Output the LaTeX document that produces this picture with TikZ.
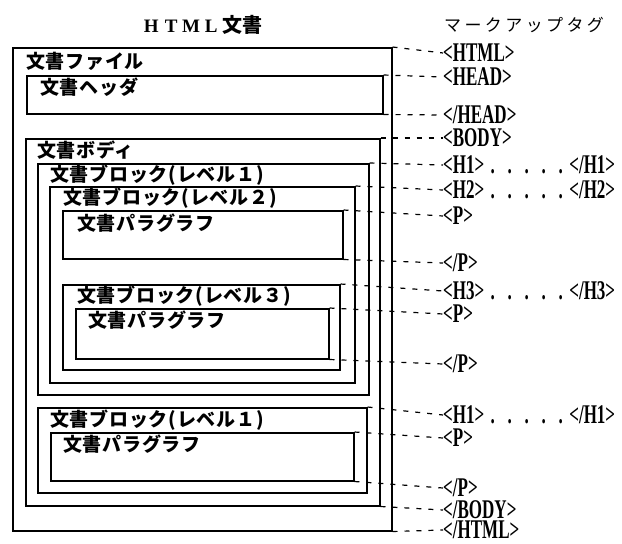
\documentclass[tikz,border=0pt]{standalone}
\usepackage{fontspec}
\newfontfamily\jp{Noto Sans CJK JP}
\newfontfamily\jpsp[LetterSpace=20]{Noto Sans CJK JP}
\newfontfamily\jpl[LetterSpace=4]{Noto Sans CJK JP}
\newfontfamily\tagf[FakeStretch=0.63]{Liberation Serif}
\newfontfamily\ser{Liberation Serif}
\newcommand\tdots{\makebox[17pt]{.}\makebox[17pt]{.}\makebox[17pt]{.}\makebox[17pt]{.}\makebox[17pt]{.}}
\newcommand\tl[1]{\makebox[20pt]{#1}}
\begin{document}
\begin{tikzpicture}[x=1pt,y=-1pt,
  box/.style={draw, line width=1.5pt, inner sep=0pt, anchor=north west},
  lab/.style={anchor=west, inner sep=0pt, font=\jpl\bfseries\fontsize{19}{19}\selectfont},
  tag/.style={anchor=west, inner sep=0pt, font=\tagf\bfseries\fontsize{27}{27}\selectfont},
  conn/.style={line width=1.2pt, dash pattern=on 5pt off 7pt}]
\fill[white] (0,0) rectangle (622,544);
\useasboundingbox (0,0) rectangle (622,544);
% titles
\node[anchor=west, inner sep=0pt] (title) at (141,25) {\ser\bfseries\fontsize{19}{19}\selectfont\tl{H}\tl{T}\tl{M}\tl{L}\hspace{1pt}\jp\bfseries\fontsize{20}{20}\selectfont 文書};
\node[anchor=west, inner sep=0pt] (mtitle) at (444,25) {\jpsp\fontsize{17}{17}\selectfont マークアップタグ};
% boxes
\node[box, minimum width=379pt, minimum height=483pt] (outer) at (12,47) {};
\node[box, minimum width=356pt, minimum height=38pt] (head) at (26,75) {};
\node[box, minimum width=354pt, minimum height=367pt] (body) at (25,138) {};
\node[box, minimum width=331pt, minimum height=231pt] (lia) at (37,163) {};
\node[box, minimum width=305pt, minimum height=196pt] (lii) at (49,186) {};
\node[box, minimum width=280pt, minimum height=48pt] (pa) at (62,210) {};
\node[box, minimum width=277pt, minimum height=85pt] (liii) at (62,284) {};
\node[box, minimum width=253pt, minimum height=50pt] (pb) at (75,308) {};
\node[box, minimum width=329pt, minimum height=85pt] (lib) at (37,407) {};
\node[box, minimum width=303pt, minimum height=48pt] (pc) at (50,432) {};
% labels
\node[lab] (lfile) at (26,61) {文書ファイル};
\node[lab] (lhead) at (40,87) {文書ヘッダ};
\node[lab] (lbody) at (37,150) {文書ボディ};
\node[lab] (llia) at (50,175) {文書ブロック(レベル１)};
\node[lab] (llii) at (63,198) {文書ブロック(レベル２)};
\node[lab] (lpa) at (77,223) {文書パラグラフ};
\node[lab] (lliii) at (77,296) {文書ブロック(レベル３)};
\node[lab] (lpb) at (88,320) {文書パラグラフ};
\node[lab] (llib) at (50,420) {文書ブロック(レベル１)};
\node[lab] (lpc) at (63,444) {文書パラグラフ};
% tags
\node[tag] (t1) at (443,53) {<HTML>};
\node[tag] (t2) at (443,77) {<HEAD>};
\node[tag] (t3) at (443,115) {</HEAD>};
\node[tag] (t4) at (443,138) {<BODY>};
\node[tag] (t5) at (443,165) {<H1>\tdots</H1>};
\node[tag] (t6) at (443,190) {<H2>\tdots</H2>};
\node[tag] (t7) at (443,216) {<P>};
\node[tag] (t8) at (443,263) {</P>};
\node[tag] (t9) at (443,291) {<H3>\tdots</H3>};
\node[tag] (t10) at (443,314) {<P>};
\node[tag] (t11) at (443,364) {</P>};
\node[tag] (t12) at (443,415) {<H1>\tdots</H1>};
\node[tag] (t13) at (443,438) {<P>};
\node[tag] (t14) at (443,488) {</P>};
\node[tag] (t15) at (443,510) {</BODY>};
\node[tag] (t16) at (443,530) {</HTML>};
% connectors
\draw[conn] (outer.north east) -- (t1.west);
\draw[conn] (head.north east) -- (t2.west);
\draw[conn] (head.south east) -- (t3.west);
\draw[conn] (body.north east) -- (t4.west);
\draw[conn] (lia.north east) -- (t5.west);
\draw[conn] (lii.north east) -- (t6.west);
\draw[conn] (pa.north east) -- (t7.west);
\draw[conn] (pa.south east) -- (t8.west);
\draw[conn] (liii.north east) -- (t9.west);
\draw[conn] (pb.north east) -- (t10.west);
\draw[conn] (pb.south east) -- (t11.west);
\draw[conn] (lib.north east) -- (t12.west);
\draw[conn] (pc.north east) -- (t13.west);
\draw[conn] (pc.south east) -- (t14.west);
\draw[conn] (body.south east) -- (t15.west);
\draw[conn] (outer.south east) -- (t16.west);
\end{tikzpicture}
\end{document}
